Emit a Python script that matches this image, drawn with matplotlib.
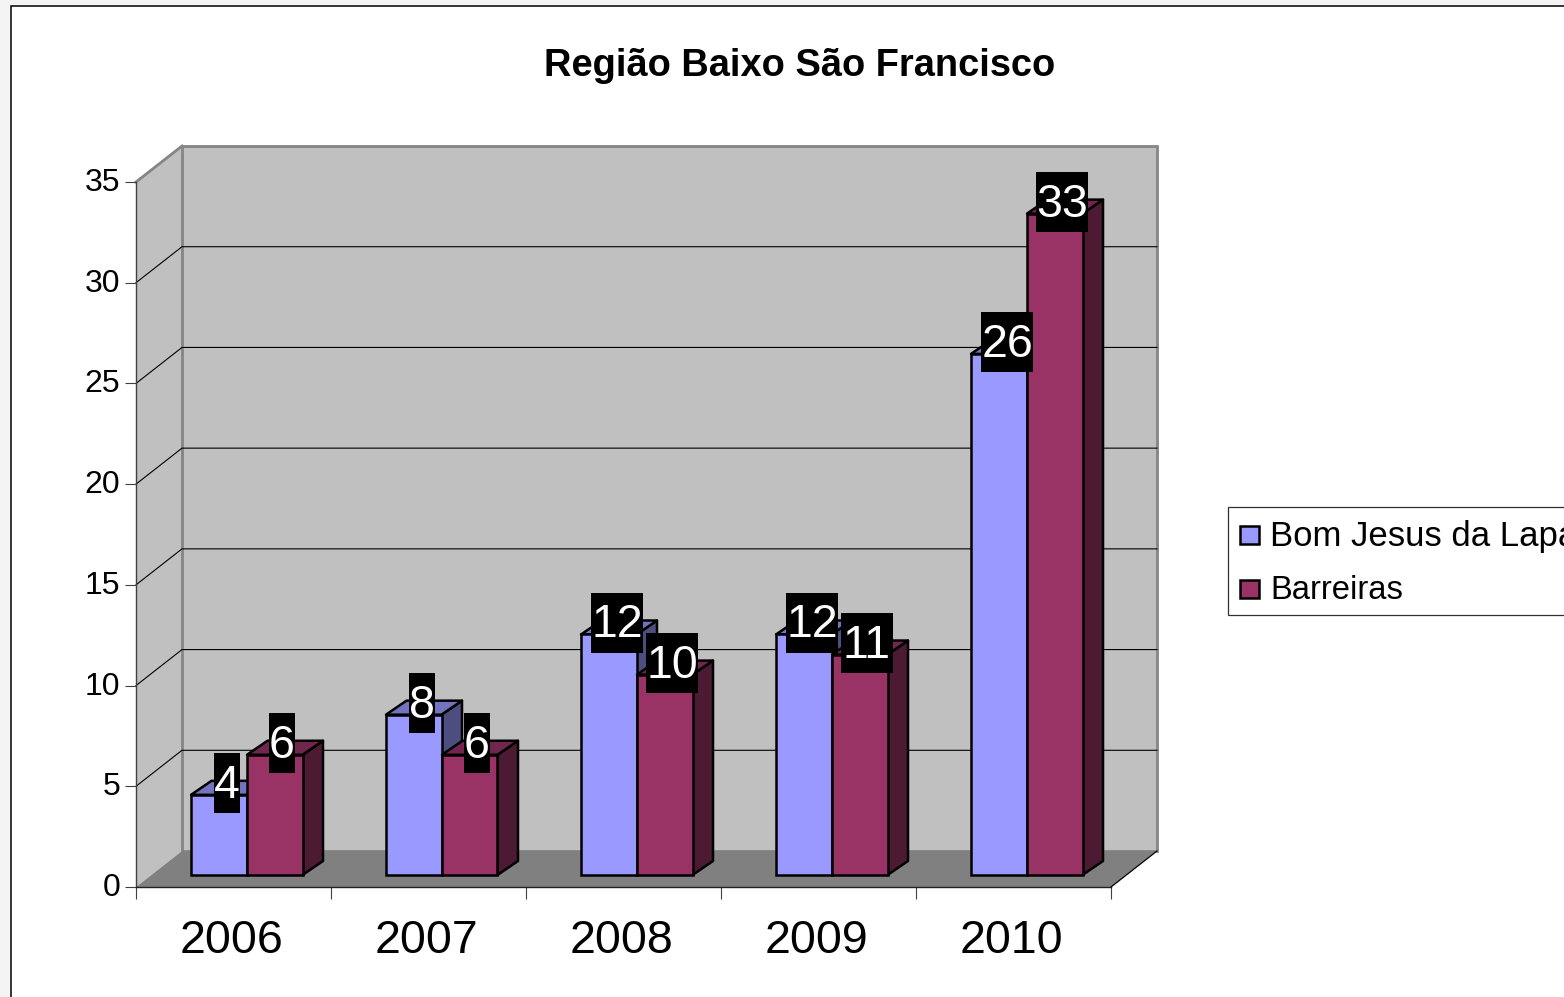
#!/usr/bin/python3
"""Regiao Baixo Sao Francisco, fake 3d column chart."""

import matplotlib
matplotlib.use('Agg')

import matplotlib.pyplot as plt
from matplotlib.patches import Polygon, Rectangle
from matplotlib.transforms import Affine2D

plt.rcParams['font.family'] = ['Liberation Sans', 'DejaVu Sans']

years = ['2006', '2007', '2008', '2009', '2010']
bom_jesus = [4, 8, 12, 12, 26]
barreiras = [6, 6, 10, 11, 33]
y_ticks = [0, 5, 10, 15, 20, 25, 30, 35]
series_names = ['Bom Jesus da Lapa', 'Barreiras']

W, H = 1564, 997
LEFT, RIGHT, TOP, BOTTOM = 136, 1111, 182, 887
PX_X = (RIGHT - LEFT) / 5
PX_Y = (BOTTOM - TOP) / 35
BAR_K = 0.995  # the columns sit a bit further back than the front axis
EDGE = 1.8


def px_x(p):
    return p / PX_X


def px_y(p):
    return p / PX_Y


def draw_series(ax, values, offset, colors, z):
    front, top, side = colors
    width = px_x(55.5)
    lift = px_y(12)
    dx, dy = px_x(20.5), px_y(14)
    heights = [v * BAR_K for v in values]
    for i, v in enumerate(heights):
        x0 = i + px_x(55) + offset
        x1 = x0 + width
        y1 = lift + v
        ax.add_patch(Polygon([(x1, lift), (x1 + dx, lift + dy), (x1 + dx, y1 + dy), (x1, y1)],
                             fc=side, ec='black', lw=EDGE, zorder=z, joinstyle='round'))
        ax.add_patch(Polygon([(x0, y1), (x0 + dx, y1 + dy), (x1 + dx, y1 + dy), (x1, y1)],
                             fc=top, ec='black', lw=EDGE, zorder=z, joinstyle='round'))
    ax.bar([i + px_x(55) + offset for i in range(len(values))], heights, width, bottom=lift,
           align='edge', color=front, edgecolor='black', linewidth=EDGE, zorder=z + 0.1)


def draw_labels(ax, values, offset):
    for i, v in enumerate(values):
        cx = i + px_x(55 + 28 + 9) + offset
        cy = px_y(12 + 11.5) + v * BAR_K
        text = str(v)
        bw, bh = px_x(26 * len(text)), px_y(60)
        ax.add_patch(Rectangle((cx - bw / 2, cy - bh / 2), bw, bh, fc='black', ec='none',
                               zorder=10, clip_on=False))
        ax.text(cx, cy - px_y(2.5), text, color='white', fontsize=33.5, ha='center', va='center',
                zorder=11)


def main():
    fig = plt.figure(figsize=(W / 100, H / 100), dpi=100, facecolor='#f4f4f5')

    # page frame
    fig.add_artist(Rectangle((11 / W, -0.01), 1.01, 1 - 6 / H + 0.01, transform=fig.transFigure,
                             fc='white', ec='black', lw=1.1, zorder=-1))

    ax = fig.add_axes([LEFT / W, 1 - BOTTOM / H, (RIGHT - LEFT) / W, (BOTTOM - TOP) / H])
    ax.set_xlim(0, 5)
    ax.set_ylim(0, 35)
    ax.patch.set_alpha(0)

    dx, dy = px_x(46), px_y(36)
    wall = '#c0c0c0'
    ax.add_patch(Polygon([(0, 0), (dx, dy), (dx, 35 + dy), (0, 35)], fc=wall, ec='none',
                         zorder=1, clip_on=False))
    ax.add_patch(Rectangle((dx, dy), 5, 35, fc=wall, ec='#858585', lw=2, zorder=1, clip_on=False))
    ax.plot([0, dx], [35, 35 + dy], color='#858585', lw=2, zorder=1.2, clip_on=False)
    ax.add_patch(Polygon([(0, 0), (5, 0), (5 + dx, dy), (dx, dy)], fc='#808080', ec='none',
                         zorder=1.5, clip_on=False))
    ax.plot([5, 5 + dx], [0, dy], color='black', lw=0.9, zorder=1.6, clip_on=False)

    for v in y_ticks[1:-1]:
        ax.plot([0, dx, 5 + dx], [v, v + dy, v + dy], color='black', lw=0.8, zorder=1.3,
                clip_on=False)

    draw_series(ax, bom_jesus, 0, ('#9999ff', '#7373bf', '#4d4d80'), 3)
    draw_series(ax, barreiras, px_x(56), ('#993366', '#73264d', '#4d1a33'), 4)
    draw_labels(ax, bom_jesus, -px_x(1))
    draw_labels(ax, barreiras, px_x(54))

    for name in ('top', 'right'):
        ax.spines[name].set_visible(False)
    ax.spines['left'].set_color('#404040')
    ax.spines['bottom'].set_color('#202020')
    for name in ('left', 'bottom'):
        ax.spines[name].set_linewidth(1.0)
        ax.spines[name].set_zorder(2)

    ax.set_yticks(y_ticks)
    ax.tick_params(axis='y', length=8, width=0.8, color='#404040', pad=3.5, labelsize=23)
    for label in ax.get_yticklabels():
        label.set_transform(label.get_transform() + Affine2D().translate(0, 2.5))
    ax.set_xticks(range(6))
    ax.set_xticklabels([])
    ax.tick_params(axis='x', which='major', length=8.5, width=0.8, color='#404040')
    ax.set_xticks([i + 0.49 for i in range(5)], minor=True)
    ax.set_xticklabels(years, minor=True)
    ax.tick_params(axis='x', which='minor', length=0, pad=23, labelsize=33.5)

    fig.text(800 / W, 1 - 66 / H, 'Região Baixo São Francisco', fontsize=27.4, fontweight='bold',
             ha='center', va='center')

    # legend box runs off the right edge of the page
    fig.add_artist(Rectangle((1228 / W, 1 - 615 / H), 0.3, 108 / H, transform=fig.transFigure,
                             fc='white', ec='#303030', lw=0.9))
    for name, color, yc, size in zip(series_names, ['#9999ff', '#993366'], [535, 589], [25, 23.6]):
        fig.add_artist(Rectangle((1240 / W, 1 - (yc + 9) / H), 19 / W, 18 / H,
                                 transform=fig.transFigure, fc=color, ec='black', lw=EDGE))
        fig.text(1270 / W, 1 - (yc + 1.5) / H, name, fontsize=size, ha='left', va='center')

    plt.savefig('out.png', dpi=100, facecolor=fig.get_facecolor())


main()
